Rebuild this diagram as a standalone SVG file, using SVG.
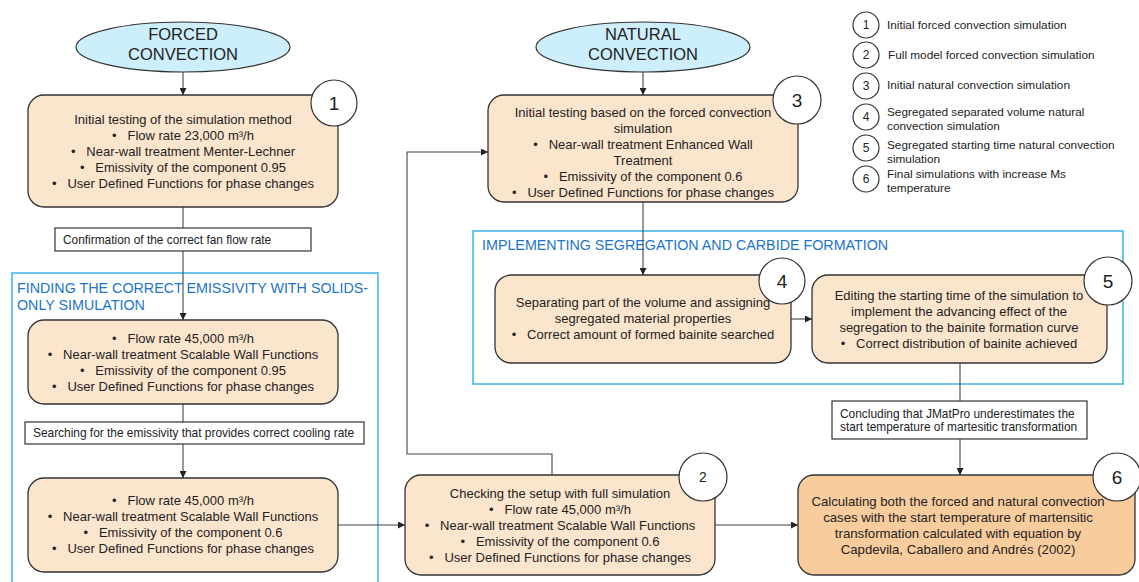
<svg xmlns="http://www.w3.org/2000/svg" width="1139" height="582" viewBox="0 0 1139 582">
<style>
text{font-family:"Liberation Sans",Arial,sans-serif;fill:#222;white-space:pre}
.box{fill:#FCE5CD;stroke:#333;stroke-width:1.3}
.box6{fill:#F9CC9D;stroke:#333;stroke-width:1.3}
.ell{fill:#CDEEFC;stroke:#333;stroke-width:1.2}
.num{fill:#fff;stroke:#333;stroke-width:1.2}
.lab{fill:#fff;stroke:#333;stroke-width:1.2}
.grp{fill:none;stroke:#3BB4E8;stroke-width:1.5}
.gt{fill:#1C75C9;font-size:14.3px}
.t{font-size:13px;text-anchor:middle}
.et{font-size:16.5px;text-anchor:middle}
.nt{font-size:19px;text-anchor:middle}
.lt{font-size:11.9px}
.lg{font-size:11.8px}
.lgn{font-size:12px;text-anchor:middle}
.c{fill:none;stroke:#444;stroke-width:1.1}
</style>
<defs>
<marker id="ah" viewBox="0 0 10 10" refX="10" refY="5" markerWidth="7" markerHeight="7" markerUnits="userSpaceOnUse" orient="auto">
<path d="M0,0 L10,5 L0,10 z" fill="#222"/>
</marker>
</defs>

<g id="group-emissivity">
<rect class="grp" x="12" y="273" width="366" height="320"/>
<text class="gt" x="17" y="293">FINDING THE CORRECT EMISSIVITY WITH SOLIDS-</text>
<text class="gt" x="17" y="310">ONLY SIMULATION</text>
</g>
<g id="group-segregation">
<rect class="grp" x="473" y="231" width="650" height="153"/>
<text class="gt" x="482" y="250">IMPLEMENTING SEGREGATION AND CARBIDE FORMATION</text>
</g>

<g id="connectors">
<path class="c" d="M183,72 V95" marker-end="url(#ah)"/>
<path class="c" d="M183,207 V228"/>
<path class="c" d="M183,251 V320" marker-end="url(#ah)"/>
<path class="c" d="M183,404 V422"/>
<path class="c" d="M183,444 V478" marker-end="url(#ah)"/>
<path class="c" d="M338,525 H405" marker-end="url(#ah)"/>
<path class="c" d="M552,475 V454 H407 V152 H488" marker-end="url(#ah)"/>
<path class="c" d="M715,525 H798" marker-end="url(#ah)"/>
<path class="c" d="M643,72 V95" marker-end="url(#ah)"/>
<path class="c" d="M643,202 V275" marker-end="url(#ah)"/>
<path class="c" d="M791,319 H812" marker-end="url(#ah)"/>
<path class="c" d="M960,363 V401"/>
<path class="c" d="M960,439 V475" marker-end="url(#ah)"/>
</g>

<g id="forced">
<ellipse class="ell" cx="183" cy="47" rx="107" ry="25"/>
<text class="et" x="183" y="40">FORCED</text>
<text class="et" x="183" y="60">CONVECTION</text>
</g>
<g id="natural">
<ellipse class="ell" cx="643" cy="47" rx="107" ry="25"/>
<text class="et" x="643" y="40">NATURAL</text>
<text class="et" x="643" y="60">CONVECTION</text>
</g>

<g id="step1">
<rect class="box" x="28" y="95" width="310" height="112" rx="16"/>
<text class="t" x="183" y="124">Initial testing of the simulation method</text>
<text class="t" x="183" y="140">•   Flow rate 23,000 m³/h</text>
<text class="t" x="183" y="156">•   Near-wall treatment Menter-Lechner</text>
<text class="t" x="183" y="172">•   Emissivity of the component 0.95</text>
<text class="t" x="183" y="188">•   User Defined Functions for phase changes</text>
<circle class="num" cx="334" cy="103" r="23"/>
<text class="nt" x="334" y="110">1</text>
</g>

<g id="label-fan">
<rect class="lab" x="55" y="228" width="256" height="23"/>
<text class="lt" x="63" y="244">Confirmation of the correct fan flow rate</text>
</g>

<g id="stepA">
<rect class="box" x="28" y="320" width="310" height="84" rx="16"/>
<text class="t" x="183" y="343">•   Flow rate 45,000 m³/h</text>
<text class="t" x="183" y="359">•   Near-wall treatment Scalable Wall Functions</text>
<text class="t" x="183" y="375">•   Emissivity of the component 0.95</text>
<text class="t" x="183" y="391">•   User Defined Functions for phase changes</text>
</g>

<g id="label-cooling">
<rect class="lab" x="25" y="422" width="339" height="22"/>
<text class="lt" x="33" y="437">Searching for the emissivity that provides correct cooling rate</text>
</g>

<g id="stepB">
<rect class="box" x="28" y="478" width="310" height="94" rx="16"/>
<text class="t" x="183" y="505">•   Flow rate 45,000 m³/h</text>
<text class="t" x="183" y="521">•   Near-wall treatment Scalable Wall Functions</text>
<text class="t" x="183" y="537">•   Emissivity of the component 0.6</text>
<text class="t" x="183" y="553">•   User Defined Functions for phase changes</text>
</g>

<g id="step2">
<rect class="box" x="405" y="475" width="310" height="100" rx="16"/>
<text class="t" x="560" y="498">Checking the setup with full simulation</text>
<text class="t" x="560" y="514">•   Flow rate 45,000 m³/h</text>
<text class="t" x="560" y="530">•   Near-wall treatment Scalable Wall Functions</text>
<text class="t" x="560" y="546">•   Emissivity of the component 0.6</text>
<text class="t" x="560" y="562">•   User Defined Functions for phase changes</text>
<circle class="num" cx="703" cy="477" r="24"/>
<text class="lgn" x="703" y="482" style="font-size:14px">2</text>
</g>

<g id="step3">
<rect class="box" x="488" y="95" width="310" height="107" rx="16"/>
<text class="t" x="643" y="117">Initial testing based on the forced convection</text>
<text class="t" x="643" y="133">simulation</text>
<text class="t" x="643" y="149">•   Near-wall treatment Enhanced Wall</text>
<text class="t" x="643" y="165">Treatment</text>
<text class="t" x="643" y="181">•   Emissivity of the component 0.6</text>
<text class="t" x="643" y="197">•   User Defined Functions for phase changes</text>
<circle class="num" cx="797" cy="100" r="24"/>
<text class="nt" x="797" y="107">3</text>
</g>

<g id="step4">
<rect class="box" x="495" y="275" width="296" height="88" rx="16"/>
<text class="t" x="643" y="307">Separating part of the volume and assigning</text>
<text class="t" x="643" y="323">segregated material properties</text>
<text class="t" x="643" y="339">•   Correct amount of formed bainite searched</text>
<circle class="num" cx="782" cy="281" r="23"/>
<text class="nt" x="782" y="288">4</text>
</g>

<g id="step5">
<rect class="box" x="812" y="275" width="295" height="88" rx="16"/>
<text class="t" x="959" y="300">Editing the starting time of the simulation to</text>
<text class="t" x="959" y="316">implement the advancing effect of the</text>
<text class="t" x="959" y="332">segregation to the bainite formation curve</text>
<text class="t" x="959" y="348">•   Correct distribution of bainite achieved</text>
<circle class="num" cx="1108" cy="281" r="24"/>
<text class="nt" x="1108" y="288">5</text>
</g>

<g id="label-jmatpro">
<rect class="lab" x="832" y="401" width="255" height="38"/>
<text class="lt" x="840" y="418">Concluding that JMatPro underestimates the</text>
<text class="lt" x="840" y="431">start temperature of martesitic transformation</text>
</g>

<g id="step6">
<rect class="box6" x="798" y="475" width="337" height="100" rx="16"/>
<text class="t" x="958" y="506" style="font-size:13.2px">Calculating both the forced and natural convection</text>
<text class="t" x="958" y="522" style="font-size:13.2px">cases with the start temperature of martensitic</text>
<text class="t" x="958" y="538" style="font-size:13.2px">transformation calculated with equation by</text>
<text class="t" x="958" y="554" style="font-size:13.2px">Capdevila, Caballero and Andrés (2002)</text>
<circle class="num" cx="1117" cy="477" r="24"/>
<text class="nt" x="1117" y="484">6</text>
</g>

<g id="legend">
<circle class="num" cx="866" cy="25" r="13"/><text class="lgn" x="866" y="29">1</text>
<text class="lg" x="887" y="29">Initial forced convection simulation</text>
<circle class="num" cx="866" cy="55" r="13"/><text class="lgn" x="866" y="59">2</text>
<text class="lg" x="888" y="59">Full model forced convection simulation</text>
<circle class="num" cx="866" cy="86" r="13"/><text class="lgn" x="866" y="90">3</text>
<text class="lg" x="887" y="89">Initial natural convection simulation</text>
<circle class="num" cx="866" cy="117" r="13"/><text class="lgn" x="866" y="121">4</text>
<text class="lg" x="887" y="116">Segregated separated volume natural</text>
<text class="lg" x="887" y="130">convection simulation</text>
<circle class="num" cx="866" cy="148" r="13"/><text class="lgn" x="866" y="152">5</text>
<text class="lg" x="887" y="149">Segregated starting time natural convection</text>
<text class="lg" x="887" y="163">simulation</text>
<circle class="num" cx="866" cy="179" r="13"/><text class="lgn" x="866" y="183">6</text>
<text class="lg" x="887" y="178">Final simulations with increase Ms</text>
<text class="lg" x="887" y="192">temperature</text>
</g>
</svg>
